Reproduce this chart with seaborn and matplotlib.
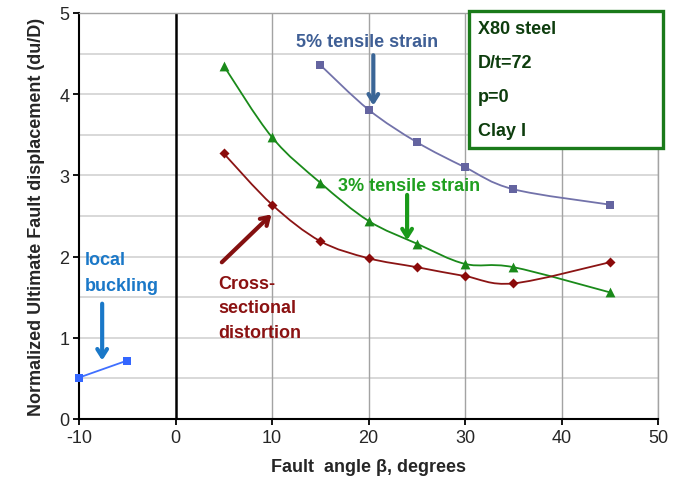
import numpy as np
import pandas as pd
import matplotlib
matplotlib.use("Agg")
import matplotlib.pyplot as plt
from matplotlib.path import Path
from matplotlib.patches import PathPatch, Rectangle
import seaborn as sns

# ---- data ----
angle_5pct = [15, 20, 25, 30, 35, 45]
disp_5pct = [4.36, 3.81, 3.41, 3.10, 2.83, 2.64]

angle_3pct = [5, 10, 15, 20, 25, 30, 35, 45]
disp_3pct = [4.35, 3.47, 2.91, 2.44, 2.16, 1.91, 1.87, 1.56]

angle_cross = [5, 10, 15, 20, 25, 30, 35, 45]
disp_cross = [3.27, 2.64, 2.19, 1.98, 1.87, 1.76, 1.67, 1.93]

angle_local = [-10, -5]
disp_local = [0.51, 0.72]

x_ticks = [-10, 0, 10, 20, 30, 40, 50]
y_ticks = [0, 1, 2, 3, 4, 5]
box_lines = ["X80 steel", "D/t=72", "p=0", "Clay I"]

sns.set_style("white")
plt.rcParams['font.family'] = ['Liberation Sans', 'DejaVu Sans']
plt.rcParams['axes.unicode_minus'] = False

fig = plt.figure(figsize=(6.85, 4.85), dpi=100)
ax = fig.add_axes([79/685, 1-420/485, (658-79)/685, (420-14)/485])

ax.set_xlim(-10, 50)
ax.set_ylim(0, 5)

# grid
for yv in np.arange(0.5, 5.01, 0.5):
    ax.axhline(yv, color='#d6d6d6', lw=1.3, zorder=0)
for xv in [10, 20, 30, 40, 50]:
    ax.axvline(xv, color='#a3a3a3', lw=1.0, zorder=0.5)
ax.axvline(0, color='black', lw=1.8, zorder=1)

for s in ['top', 'right']:
    ax.spines[s].set_color('#a3a3a3')
    ax.spines[s].set_linewidth(1.0)
for s in ['left', 'bottom']:
    ax.spines[s].set_color('black')
    ax.spines[s].set_linewidth(1.5)

ax.set_xticks(x_ticks)
ax.set_yticks(y_ticks)
ax.tick_params(axis='both', direction='out', length=4, width=1.3, color='black',
               labelsize=13, pad=3, bottom=True, left=True)


def smooth_path(xs, ys):
    pts = np.column_stack([xs, ys]).astype(float)
    n = len(pts)
    verts = [pts[0]]
    codes = [Path.MOVETO]
    for i in range(n - 1):
        p0 = pts[i - 1] if i > 0 else pts[i]
        p1 = pts[i]
        p2 = pts[i + 1]
        p3 = pts[i + 2] if i + 2 < n else pts[i + 1]
        c1 = p1 + (p2 - p0) / 6.0
        c2 = p2 - (p3 - p1) / 6.0
        verts += [c1, c2, p2]
        codes += [Path.CURVE4] * 3
    return Path(verts, codes)


series = [
    (angle_5pct, disp_5pct, '#7272aa', '#6464a0', 's', 38),
    (angle_3pct, disp_3pct, '#1a8a1a', '#1a8a1a', '^', 50),
    (angle_cross, disp_cross, '#8b1414', '#8b0a0a', 'D', 26),
]
for xs, ys, lc, mc, mk, ms in series:
    ax.add_patch(PathPatch(smooth_path(xs, ys), facecolor='none', edgecolor=lc,
                           lw=1.3, zorder=3))
    sns.scatterplot(x=xs, y=ys, marker=mk, color=mc, s=ms, edgecolor=mc,
                    linewidth=0, ax=ax, zorder=4)

sns.lineplot(x=angle_local, y=disp_local, color='#3f6fff', lw=1.3, ax=ax, zorder=3)
sns.scatterplot(x=angle_local, y=disp_local, marker='s', color='#3366ff', s=38,
                linewidth=0, ax=ax, zorder=4)
ax.collections[-1].set_clip_on(False)

ax.set_xlabel("Fault  angle β, degrees", fontsize=13, fontweight='bold', labelpad=9)
ax.set_ylabel("Normalized Ultimate Fault displacement (du/D)", fontsize=13,
              fontweight='bold', labelpad=10)

# annotations
ax.text(19.8, 4.65, "5% tensile strain", color='#3f5f95', fontsize=13,
        fontweight='bold', ha='center', va='center')
ax.annotate("", xy=(20.5, 3.86), xytext=(20.5, 4.48),
            arrowprops=dict(arrowstyle='->,head_length=0.55,head_width=0.35',
                            color='#3a6596', lw=3, shrinkA=0, shrinkB=0))

ax.text(24.2, 2.87, "3% tensile strain", color='#1f9f1f', fontsize=13,
        fontweight='bold', ha='center', va='center')
ax.annotate("", xy=(24.0, 2.20), xytext=(24.0, 2.76),
            arrowprops=dict(arrowstyle='->,head_length=0.55,head_width=0.35',
                            color='#1a9a1a', lw=3, shrinkA=0, shrinkB=0))

for i, line in enumerate(["Cross-", "sectional", "distortion"]):
    ax.text(4.4, 1.67 - i * 0.30, line, color='#8b1212', fontsize=13,
            fontweight='bold', ha='left', va='center')
ax.annotate("", xy=(9.95, 2.52), xytext=(4.8, 1.93),
            arrowprops=dict(arrowstyle='->,head_length=0.55,head_width=0.35',
                            color='#841010', lw=3, shrinkA=0, shrinkB=0))

for i, line in enumerate(["local", "buckling"]):
    ax.text(-9.4, 1.97 - i * 0.33, line, color='#1a78c8', fontsize=13,
            fontweight='bold', ha='left', va='center')
ax.annotate("", xy=(-7.6, 0.72), xytext=(-7.6, 1.42),
            arrowprops=dict(arrowstyle='->,head_length=0.55,head_width=0.35',
                            color='#1a78c8', lw=3, shrinkA=0, shrinkB=0))

# info box
box = Rectangle((469/685, 1-149/485), 194/685, 137/485, transform=fig.transFigure,
                facecolor='white', edgecolor='#1a7a1a', lw=2.4, zorder=5)
fig.add_artist(box)
for i, line in enumerate(box_lines):
    fig.text(478/685, 1-(30 + 34*i)/485, line, color='#0d3d0d', fontsize=13,
             fontweight='bold', ha='left', va='center', zorder=6)

fig.savefig("out.png", dpi=100)
